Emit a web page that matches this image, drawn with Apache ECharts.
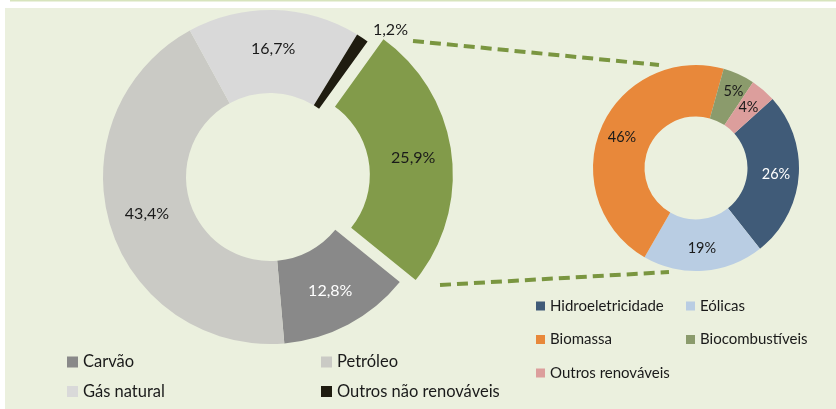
<!DOCTYPE html>
<html>
<head>
<meta charset="utf-8">
<script src="https://cdn.jsdelivr.net/npm/echarts@6/dist/echarts.min.js"></script>
<style>
  html, body { margin: 0; padding: 0; background: #fff; }
  #chart { width: 836px; height: 409px; }
</style>
</head>
<body>
<div id="chart"></div>
<script>
// matriz energética: fontes primárias e detalhe das renováveis
const fonteNomes = ['Carvão', 'Petróleo', 'Gás natural', 'Outros não renováveis', 'Renováveis'];
const fonteValores = [12.8, 43.4, 16.7, 1.2, 25.9];
const renovNomes = ['Hidroeletricidade', 'Eólicas', 'Biomassa', 'Biocombustíveis', 'Outros renováveis'];
const renovValores = [26, 19, 46, 5, 4];

const FONTE_CORES = ['#898989', '#cacac5', '#d9d9d9', '#1f1c10', '#829b4a'];
const RENOV_CORES = ['#405b78', '#b9cde3', '#e8883a', '#8b9b6c', '#dc9e9c'];
const FONT = 'Lato, "Noto Sans", sans-serif';
const TXT = '#1a1a1a';

const chart = echarts.init(document.getElementById('chart'));

const fonteData = fonteNomes.map((name, i) => {
  const item = { name, value: fonteValores[i], itemStyle: { color: FONTE_CORES[i] } };
  if (name === 'Carvão') item.label = { color: '#fff' };
  if (name === 'Renováveis') item.selected = true;
  if (name === 'Outros não renováveis') {
    item.label = { position: 'outside' };
    item.labelLine = { show: false, length: 10, length2: 0 };
  }
  return item;
});

const renovData = renovNomes.map((name, i) => {
  const item = { name, value: renovValores[i], itemStyle: { color: RENOV_CORES[i] } };
  if (name === 'Hidroeletricidade') item.label = { color: '#fff' };
  if (name === 'Biocombustíveis') item.label = { offset: [4, -4] };
  return item;
});

function legend(data, left, top, size, fontSize, lineHeight, gap) {
  return {
    data, left, top, orient: 'vertical', padding: 0,
    icon: 'rect', itemWidth: size, itemHeight: size, itemGap: gap,
    selectedMode: false,
    textStyle: { fontFamily: FONT, fontSize, lineHeight, color: TXT },
  };
}

const dash = (x1, y1, x2, y2) => ({
  type: 'line',
  shape: { x1, y1, x2, y2 },
  style: { stroke: '#7a9640', lineWidth: 4, lineDash: [11, 6] },
});

chart.setOption({
  animation: false,
  graphic: [
    { type: 'rect', z: -10, shape: { x: 5, y: 8, width: 831, height: 401 }, style: { fill: '#ebf0de' } },
    { type: 'line', z: -10, shape: { x1: 10, y1: 0.5, x2: 836, y2: 0.5 }, style: { stroke: '#d7e4bd', lineWidth: 2 } },
    dash(413, 41, 659, 65),
    dash(440, 285, 669, 272),
  ],
  legend: [
    legend(['Carvão', 'Gás natural'], 67, 353, 11, 16.5, 18, 11.5),
    legend(['Petróleo', 'Outros não renováveis'], 321, 353, 11, 16.5, 18, 11.5),
    legend(['Hidroeletricidade', 'Biomassa', 'Outros renováveis'], 536, 298, 9, 15, 16, 17.5),
    legend(['Eólicas', 'Biocombustíveis'], 686, 298, 9, 15, 16, 17.5),
  ],
  series: [
    {
      type: 'pie',
      center: [270, 177],
      radius: [84, 167],
      startAngle: 321,
      selectedMode: 'single',
      selectedOffset: 16,
      avoidLabelOverlap: false,
      labelLayout: { hideOverlap: false },
      emphasis: { disabled: true },
      label: {
        position: 'inside',
        fontFamily: FONT,
        fontSize: 16,
        color: TXT,
        formatter: (p) => p.value.toFixed(1).replace('.', ',') + '%',
      },
      data: fonteData,
    },
    {
      type: 'pie',
      center: [696, 168],
      radius: [51.5, 103],
      startAngle: 42,
      avoidLabelOverlap: false,
      labelLayout: { hideOverlap: false },
      emphasis: { disabled: true },
      label: {
        position: 'inside',
        fontFamily: FONT,
        fontSize: 14.5,
        color: TXT,
        formatter: (p) => p.value + '%',
      },
      data: renovData,
    },
  ],
});

window.addEventListener('resize', () => chart.resize());
</script>
</body>
</html>
